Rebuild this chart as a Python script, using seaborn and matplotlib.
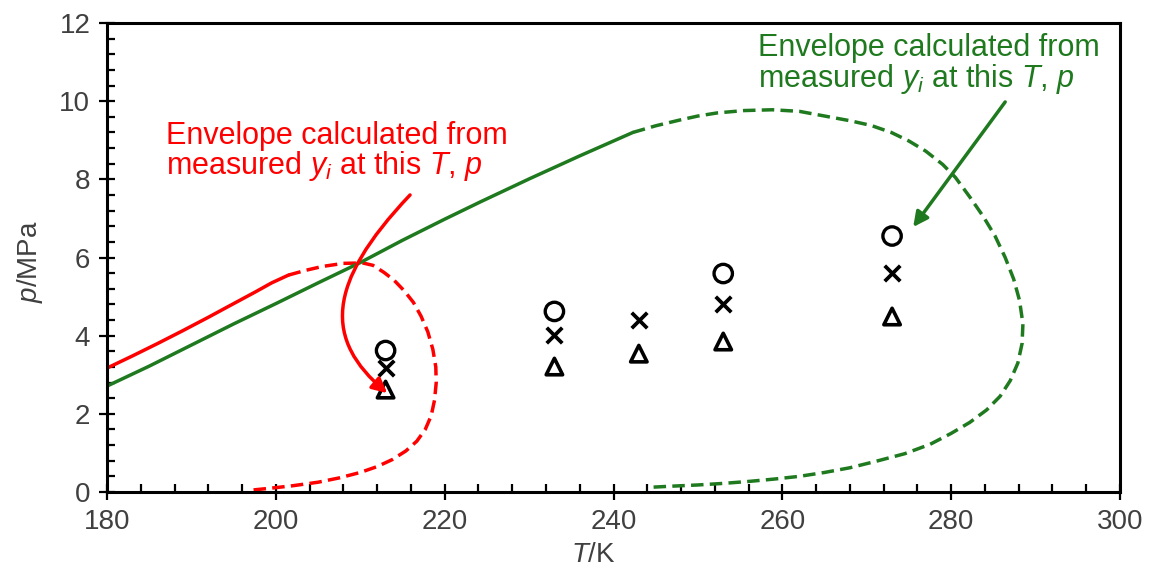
import matplotlib
matplotlib.use('Agg')
import matplotlib.pyplot as plt
import seaborn as sns
import pandas as pd
from matplotlib.path import Path
from matplotlib.patches import FancyArrowPatch
from matplotlib.ticker import MultipleLocator

# ---------------- data ----------------
# measured points
T_circle = [213, 233, 253, 273]
p_circle = [3.62, 4.62, 5.59, 6.55]
T_cross = [213, 233, 243, 253, 273]
p_cross = [3.17, 4.02, 4.40, 4.80, 5.61]
T_tri = [213, 233, 243, 253, 273]
p_tri = [2.62, 3.21, 3.54, 3.85, 4.49]

# red envelope (solid part, then dashed part)
T_red_solid = [180, 183, 186, 189, 192, 195, 197.5, 199.5, 201.5]
p_red_solid = [3.17, 3.48, 3.80, 4.13, 4.47, 4.82, 5.11, 5.35, 5.55]
T_red_dash = [201.5, 203.5, 205.5, 208.0, 210.3, 211.5, 212.8, 214.0, 215.2, 216.3,
              217.2, 218.0, 218.6, 218.95, 219.0, 218.8, 218.4, 217.7, 216.7, 215.4,
              213.8, 212.0, 210.0, 207.5, 205.0, 202.0, 199.5, 197.2]
p_red_dash = [5.55, 5.67, 5.77, 5.85, 5.86, 5.80, 5.62, 5.42, 5.15, 4.85,
              4.50, 4.10, 3.65, 3.20, 2.80, 2.35, 1.95, 1.60, 1.30, 1.05,
              0.83, 0.65, 0.50, 0.36, 0.25, 0.16, 0.10, 0.05]

# green envelope (solid part, then dashed part)
T_green_solid = [180, 185, 190, 195, 200, 205, 210, 215, 220, 224.2, 230.1, 236.0, 242.3]
p_green_solid = [2.71, 3.22, 3.76, 4.30, 4.82, 5.35, 5.87, 6.44, 6.98, 7.42, 8.02, 8.60, 9.20]
T_green_dash = [242.3, 245.0, 247.9, 250.0, 252.3, 255.5, 258.8, 262.0, 265.0, 268.0,
                270.5, 272.9, 275.0, 277.0, 279.0, 280.5, 282.2, 283.8, 285.2, 286.4,
                287.4, 288.1, 288.5, 288.4, 287.9, 287.0, 285.8, 284.2, 282.2, 280.0,
                277.5, 274.5, 271.0, 268.0, 265.0, 262.0, 259.0, 256.0, 253.0, 250.0,
                247.0, 244.3]
p_green_dash = [9.20, 9.37, 9.52, 9.62, 9.70, 9.76, 9.78, 9.74, 9.62, 9.50,
                9.38, 9.20, 8.98, 8.72, 8.38, 8.05, 7.55, 7.05, 6.55, 6.00,
                5.45, 4.90, 4.30, 3.80, 3.30, 2.85, 2.45, 2.10, 1.78, 1.50,
                1.22, 0.98, 0.78, 0.62, 0.50, 0.40, 0.33, 0.27, 0.22, 0.18,
                0.15, 0.12]

x_ticks = [180, 200, 220, 240, 260, 280, 300]
y_ticks = [0, 2, 4, 6, 8, 10, 12]

label_text = "Envelope calculated from\nmeasured $y_i$ at this $T$, $p$"
red_label_pos = (187.0, 8.13)     # baseline of last line
green_label_pos = (257.1, 10.36)
# curved red arrow control points (data coords)
red_arrow_pts = [(215.9, 7.60), (205.8, 5.30), (205.8, 3.89), (213.2, 2.53)]
green_arrow_start = (286.4, 9.98)
green_arrow_end = (275.5, 6.78)

# ---------------- style ----------------
sns.set_theme(style='white')
plt.rcParams['font.family'] = ['Liberation Sans', 'DejaVu Sans']
plt.rcParams['mathtext.fontset'] = 'custom'
plt.rcParams['mathtext.rm'] = 'Liberation Sans'
plt.rcParams['mathtext.it'] = 'Liberation Sans:italic'

RED = '#ff0000'
GREEN = '#1f7a1f'
TXT = '#404040'
LW = 2.5

fig = plt.figure(figsize=(11.53, 5.74), dpi=100)
ax = fig.add_axes([107 / 1153, 1 - 492 / 574, 1013 / 1153, 469 / 574])

def line(T, p, color, dashed=False):
    df = pd.DataFrame({'T': T, 'p': p})
    kw = dict(linestyle=(0, (3.6, 1.8))) if dashed else {}
    sns.lineplot(data=df, x='T', y='p', sort=False, estimator=None, color=color,
                 lw=LW, ax=ax, **kw)

line(T_red_solid, p_red_solid, RED)
line(T_red_dash, p_red_dash, RED, dashed=True)
line(T_green_solid, p_green_solid, GREEN)
line(T_green_dash, p_green_dash, GREEN, dashed=True)

sns.scatterplot(x=T_circle, y=p_circle, marker='o', s=175, facecolor='none',
                edgecolor='black', linewidth=2.4, ax=ax, zorder=5)
sns.scatterplot(x=T_cross, y=p_cross, marker='x', s=125, color='black',
                linewidth=2.7, ax=ax, zorder=5)
sns.scatterplot(x=T_tri, y=p_tri, marker='^', s=140, facecolor='none',
                edgecolor='black', linewidth=2.6, ax=ax, zorder=5)

# annotations
ax.text(*red_label_pos, label_text, color=RED, fontsize=22, ha='left',
        va='baseline', linespacing=0.95)
ax.text(*green_label_pos, label_text, color=GREEN, fontsize=22, ha='left',
        va='baseline', linespacing=0.95)

path = Path(red_arrow_pts, [Path.MOVETO, Path.CURVE4, Path.CURVE4, Path.CURVE4])
arr = FancyArrowPatch(path=path, arrowstyle='-|>', mutation_scale=22,
                      color=RED, lw=LW, zorder=6)
ax.add_patch(arr)
ax.annotate('', xy=green_arrow_end, xytext=green_arrow_start,
            arrowprops=dict(arrowstyle='-|>', mutation_scale=22, color=GREEN,
                            lw=LW, shrinkA=0, shrinkB=0), zorder=6)

# axes
ax.set_xlim(180, 300)
ax.set_ylim(0, 12)
ax.set_xticks(x_ticks)
ax.set_yticks(y_ticks)
ax.xaxis.set_minor_locator(MultipleLocator(4))
ax.yaxis.set_minor_locator(MultipleLocator(0.4))
for s in ax.spines.values():
    s.set_color('black')
    s.set_linewidth(2.2)
    s.set_visible(True)
ax.tick_params(which='major', direction='inout', length=12, width=1.6,
               color='black', labelsize=20, labelcolor=TXT, pad=6,
               bottom=True, left=True)
ax.tick_params(which='minor', direction='in', length=5.5, width=1.6,
               color='black', bottom=True, left=True)
ax.set_xlabel('$T$/K', fontsize=20, color=TXT, va='center')
ax.set_ylabel('$p$/MPa', fontsize=20, color=TXT, va='center')
ax.xaxis.set_label_coords((593 - 107) / 1013, -(555 - 492) / 469)
ax.yaxis.set_label_coords((30 - 107) / 1013, (492 - 262) / 469)

fig.savefig('out.png', dpi=100, facecolor='white')
